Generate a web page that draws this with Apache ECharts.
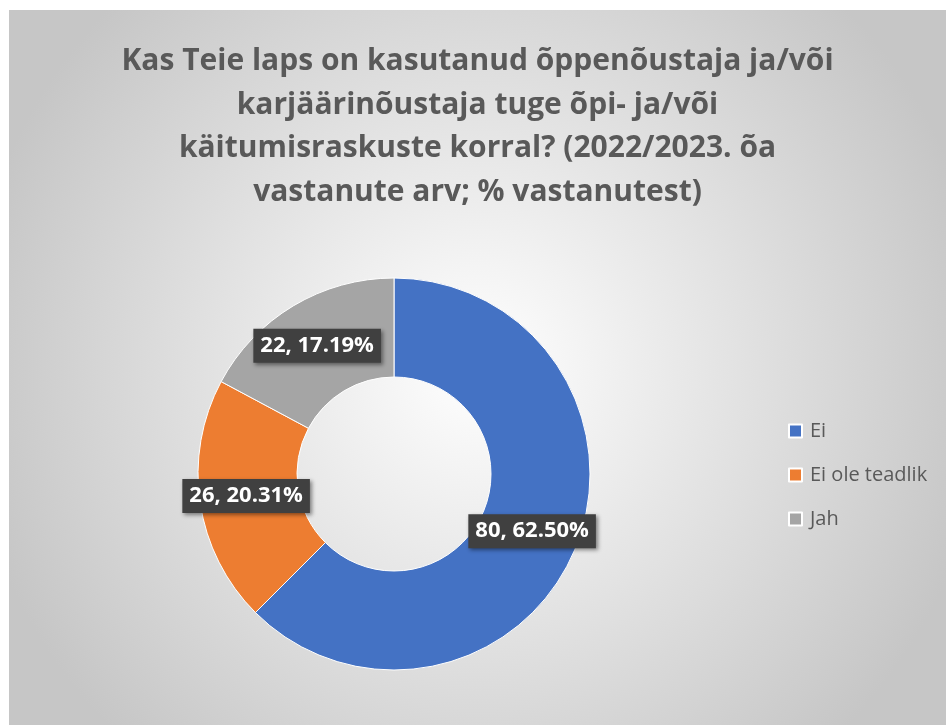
<!DOCTYPE html>
<html>
<head>
<meta charset="utf-8">
<script src="https://cdn.jsdelivr.net/npm/echarts@6/dist/echarts.min.js"></script>
<style>
  html, body { margin: 0; padding: 0; background: #fff; }
  #chart { position: absolute; left: 9px; top: 10px; width: 937px; height: 715px; }
</style>
</head>
<body>
<!-- CHART: donut, respondents per answer -->
<div id="chart"></div>
<script>
var titleText = 'Kas Teie laps on kasutanud õppenõustaja ja/või\nkarjäärinõustaja tuge õpi- ja/või\nkäitumisraskuste korral? (2022/2023. õa\nvastanute arv; % vastanutest)';
var categories = ['Ei', 'Ei ole teadlik', 'Jah'];
var counts = [80, 26, 22];
var colors = ['#4472C4', '#ED7D31', '#A5A5A5'];

var total = counts.reduce(function (a, b) { return a + b; }, 0);

var myChart = echarts.init(document.getElementById('chart'));

var option = {
  backgroundColor: {
    type: 'radial', x: 0.5, y: 0.5, r: 0.72,
    colorStops: [
      { offset: 0, color: '#ffffff' },
      { offset: 1, color: '#c6c6c6' }
    ]
  },
  color: colors,
  title: {
    text: titleText,
    left: 'center',
    top: 25,
    textStyle: {
      fontFamily: 'Open Sans',
      fontWeight: 'bold',
      fontSize: 30,
      lineHeight: 43.5,
      color: '#595959'
    }
  },
  legend: {
    orient: 'vertical',
    left: 774,
    top: 406,
    itemWidth: 13,
    itemHeight: 13,
    itemGap: 24,
    icon: 'rect',
    data: categories,
    textStyle: {
      fontFamily: 'Open Sans',
      fontSize: 20,
      color: '#595959',
      padding: [0, 0, 0, 3]
    }
  },
  series: [{
    type: 'pie',
    center: [385, 464],
    radius: [97, 196],
    startAngle: 90,
    clockwise: true,
    avoidLabelOverlap: false,
    itemStyle: { borderColor: '#ffffff', borderWidth: 1 },
    label: {
      show: true,
      position: 'inside',
      formatter: function (p) {
        return p.value + ', ' + (p.value / total * 100).toFixed(2) + '%';
      },
      fontFamily: 'Open Sans',
      fontWeight: 'bold',
      fontSize: 22,
      color: '#ffffff',
      backgroundColor: '#404040',
      padding: [7, 7, 5, 7],
      shadowColor: 'rgba(0,0,0,0.45)',
      shadowBlur: 4,
      shadowOffsetX: 2,
      shadowOffsetY: 2
    },
    labelLine: { show: false },
    emphasis: { disabled: true },
    data: categories.map(function (c, i) {
      return { name: c, value: counts[i] };
    })
  }]
};

myChart.setOption(option);
</script>
</body>
</html>
